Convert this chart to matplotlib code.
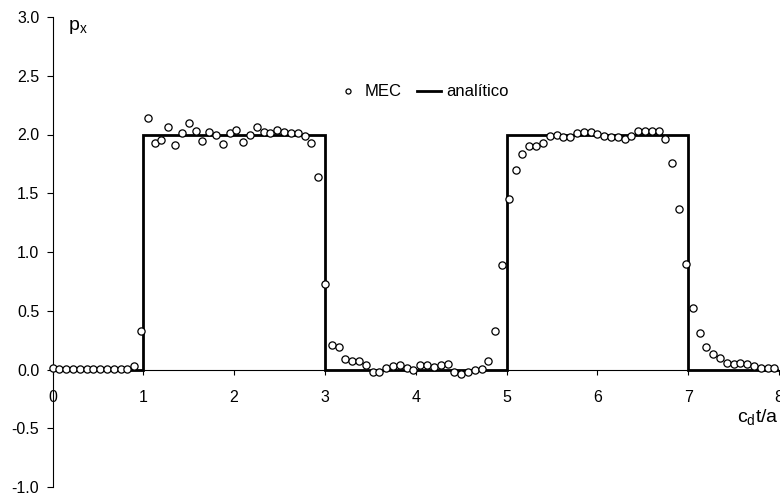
import numpy as np
import matplotlib
matplotlib.use("Agg")
import matplotlib.pyplot as plt

plt.rcParams['font.family'] = ['Liberation Sans', 'DejaVu Sans']
plt.rcParams['mathtext.fontset'] = 'custom'
plt.rcParams['mathtext.rm'] = 'Liberation Sans'
plt.rcParams['mathtext.it'] = 'Liberation Sans'
plt.rcParams['axes.unicode_minus'] = False

# --- data ---
time_step = 0.075
mec_values = [
    0.01, 0.005, 0.005, 0.005, 0.005, 0.005, 0.005, 0.005, 0.005, 0.005, 0.005, 0.005, 0.03,
    0.33,
    2.14, 1.925, 1.956, 2.06, 1.91, 2.01, 2.095, 2.03, 1.945, 2.02, 2.0, 1.92, 2.01,
    2.035, 1.935, 2.0, 2.06, 2.02, 2.01, 2.04, 2.02, 2.01, 2.01, 1.985, 1.93, 1.64,
    0.73,
    0.205, 0.195, 0.09, 0.072, 0.075, 0.04, -0.02, -0.02, 0.01, 0.03, 0.04, 0.013, -0.005,
    0.04, 0.04, 0.02, 0.04, 0.047, -0.02, -0.04, -0.02, -0.005, 0.007, 0.07, 0.33, 0.89,
    1.45,
    1.70, 1.834, 1.90, 1.90, 1.93, 1.99, 2.0, 1.975, 1.98, 2.01, 2.025, 2.025, 2.005,
    1.99, 1.98, 1.975, 1.96, 1.99, 2.03, 2.03, 2.03, 2.03, 1.96, 1.755,
    1.366, 0.895, 0.526, 0.308, 0.19, 0.135, 0.10, 0.058, 0.047, 0.058, 0.047, 0.03,
    0.015, 0.01, 0.01,
]
mec_times = np.arange(len(mec_values)) * time_step

analytic_times = [0, 1, 1, 3, 3, 5, 5, 7, 7, 8]
analytic_values = [0, 0, 2, 2, 0, 0, 2, 2, 0, 0]

x_ticks = [0, 1, 2, 3, 4, 5, 6, 7, 8]
y_ticks = [-1.0, -0.5, 0.0, 0.5, 1.0, 1.5, 2.0, 2.5, 3.0]

fig = plt.figure(figsize=(7.8, 4.95), dpi=100)
ax = fig.add_axes([52.5 / 780, 1 - 487 / 495, (779 - 52.5) / 780, (487 - 17) / 495])

ax.plot(analytic_times, analytic_values, color='black', lw=2.0, zorder=2,
        label='analítico', solid_joinstyle='miter')
ax.plot(mec_times, mec_values, linestyle='none', marker='o', markersize=5.2,
        markerfacecolor='white', markeredgecolor='black', markeredgewidth=0.9,
        zorder=3, clip_on=False, label='MEC')

ax.set_xlim(0, 8)
ax.set_ylim(-1.0, 3.0)

for s in ['top', 'right']:
    ax.spines[s].set_visible(False)
ax.spines['bottom'].set_position(('data', 0))
ax.spines['left'].set_linewidth(0.8)
ax.spines['bottom'].set_linewidth(0.8)

ax.set_xticks(x_ticks)
ax.set_xticklabels([str(v) for v in x_ticks])
ax.set_yticks(y_ticks)
ax.set_yticklabels([f"{v:.1f}" for v in y_ticks])
ax.tick_params(axis='y', direction='out', length=4, width=0.8, pad=5.5, labelsize=11.5)
ax.tick_params(axis='x', direction='out', length=3.5, width=0.8, pad=11, labelsize=11.5)

ax.text(0.17, 2.89, r'$\mathrm{p}_\mathrm{x}$', fontsize=14, ha='left', va='baseline')
ax.text(8.0, -0.45, r'$\mathrm{c}_\mathrm{d}\mathrm{t/a}$', fontsize=14, ha='right', va='baseline')

handles, labels = ax.get_legend_handles_labels()
leg = ax.legend(handles[::-1], labels[::-1], ncol=2, frameon=False, loc='center',
                bbox_to_anchor=(422 / 780, 1 - 92 / 495), bbox_transform=fig.transFigure,
                fontsize=12, handlelength=1.45, handletextpad=0.3, columnspacing=0.9,
                markerscale=0.7)

fig.savefig('out.png', dpi=100)
